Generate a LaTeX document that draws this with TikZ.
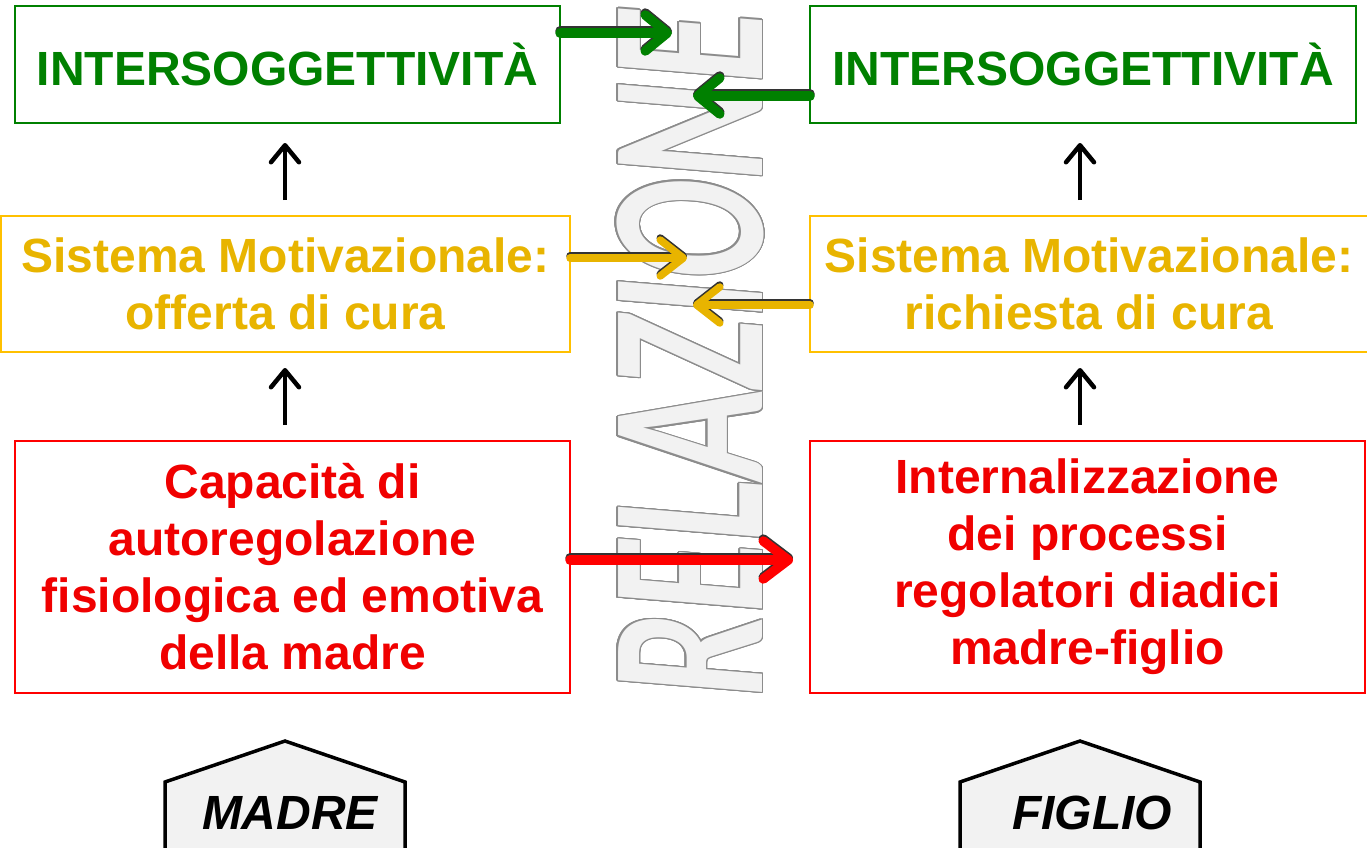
\documentclass[tikz,border=0pt]{standalone}
\usepackage{fontspec}
\setmainfont{Liberation Sans}
\newfontfamily\relfont{Carlito}
\usepackage{contour}
\contourlength{1.1pt}
\contournumber{24}
\usetikzlibrary{arrows.meta}
\definecolor{cgreen}{RGB}{0,128,0}
\definecolor{cgoldtext}{RGB}{232,180,0}
\definecolor{cgold}{RGB}{255,192,0}
\definecolor{cred}{RGB}{240,0,0}
\definecolor{cbred}{RGB}{255,0,0}
\definecolor{crelfill}{RGB}{242,242,242}
\definecolor{crelline}{RGB}{140,140,140}
\definecolor{chouse}{RGB}{242,242,242}
\begin{document}
\begin{tikzpicture}[x=1pt,y=-1pt,
  box/.style={draw, line width=2pt, inner sep=0pt, outer sep=0pt, align=center,
    font=\bfseries\fontsize{48}{57}\selectfont},
  greenbox/.style={box, draw=cgreen, text=cgreen},
  goldbox/.style={box, draw=cgold, text=cgoldtext},
  redbox/.style={box, draw=cbred, text=cred},
  upar/.style={line width=4.5pt, -{Straight Barb[round,length=17pt,width=28pt]}},
  shadowar/.style={draw=black!80, transform canvas={yshift=2pt}},
  garrow/.style={line width=9.5pt, line cap=round, cgreen, -{Straight Barb[round,length=22pt,width=36pt]}},
  yarrow/.style={line width=7.5pt, line cap=round, cgoldtext, -{Straight Barb[round,length=23pt,width=36pt]}},
  rarrow/.style={line width=9.5pt, line cap=round, cbred, -{Straight Barb[round,length=25pt,width=38pt]}},
  house/.style={draw=black, line width=3.5pt, fill=chouse, line join=miter},
  housetext/.style={font=\bfseries\itshape\fontsize{48}{48}\selectfont, anchor=base, inner sep=0pt}
]
\useasboundingbox (0,0) rectangle (1367,847);

% RELAZIONE
\node[rotate=90, inner sep=0pt, anchor=center] (rel) at (691,354)
  {\scalebox{1}[1.5]{\relfont\bfseries\itshape\fontsize{148}{148}\selectfont\contour{crelline}{\textcolor{crelfill}{RELAZIONE}}}};

% boxes
\node[greenbox, minimum width=545pt, minimum height=117pt] (lg) at (287.5,64.5) {INTERSOGGETTIVITÀ};
\node[greenbox, minimum width=546pt, minimum height=117pt] (rg) at (1083,64.5) {INTERSOGGETTIVITÀ};
\node[goldbox, minimum width=569pt, minimum height=136pt] (ly) at (285.5,284) {Sistema Motivazionale:\\offerta di cura};
\node[goldbox, minimum width=558pt, minimum height=136pt] (ry) at (1089,284) {Sistema Motivazionale:\\richiesta di cura};
\node[redbox, minimum width=555pt, minimum height=252pt] (lr) at (292.5,567) {Capacità di\\autoregolazione\\fisiologica ed emotiva\\della madre};
\node[redbox, minimum width=555pt, minimum height=252pt] (rr) at (1087.5,567) {Internalizzazione\\dei processi\\regolatori diadici\\madre-figlio};

% vertical arrows
\coordinate (axl) at (285,0);
\coordinate (axr) at (1080,0);
\draw[upar, shorten <=16pt, shorten >=20pt] (ly.north -| axl) -- (lg.south -| axl);
\draw[upar, shorten <=16pt, shorten >=16pt] (lr.north -| axl) -- (ly.south -| axl);
\draw[upar, shorten <=16pt, shorten >=20pt] (ry.north -| axr) -- (rg.south -| axr);
\draw[upar, shorten <=16pt, shorten >=16pt] (rr.north -| axr) -- (ry.south -| axr);

% horizontal arrow tips
\coordinate (g1) at (672,33);
\coordinate (g2) at (693,96);
\coordinate (y1) at (687,258);
\coordinate (y2) at (693,305);
\coordinate (r1) at (793,560);

\draw[garrow, shadowar] (g1 -| lg.east) -- (g1);
\draw[garrow] (g1 -| lg.east) -- (g1);
\draw[garrow, shadowar] (g2 -| rg.west) -- (g2);
\draw[garrow] (g2 -| rg.west) -- (g2);
\draw[yarrow, shadowar] (y1 -| ly.east) -- (y1);
\draw[yarrow] (y1 -| ly.east) -- (y1);
\draw[yarrow, shadowar] (y2 -| ry.west) -- (y2);
\draw[yarrow] (y2 -| ry.west) -- (y2);
\draw[rarrow, shadowar] (r1 -| lr.east) -- (r1);
\draw[rarrow] (r1 -| lr.east) -- (r1);

% houses
\draw[house] (165,850) -- (165,782) -- (285,741) -- (405,782) -- (405,850) -- cycle;
\node[housetext] (madre) at (290,829) {MADRE};
\draw[house] (960,850) -- (960,782) -- (1080,741) -- (1200,782) -- (1200,850) -- cycle;
\node[housetext] (figlio) at (1092,829) {FIGLIO};
\end{tikzpicture}
\end{document}
